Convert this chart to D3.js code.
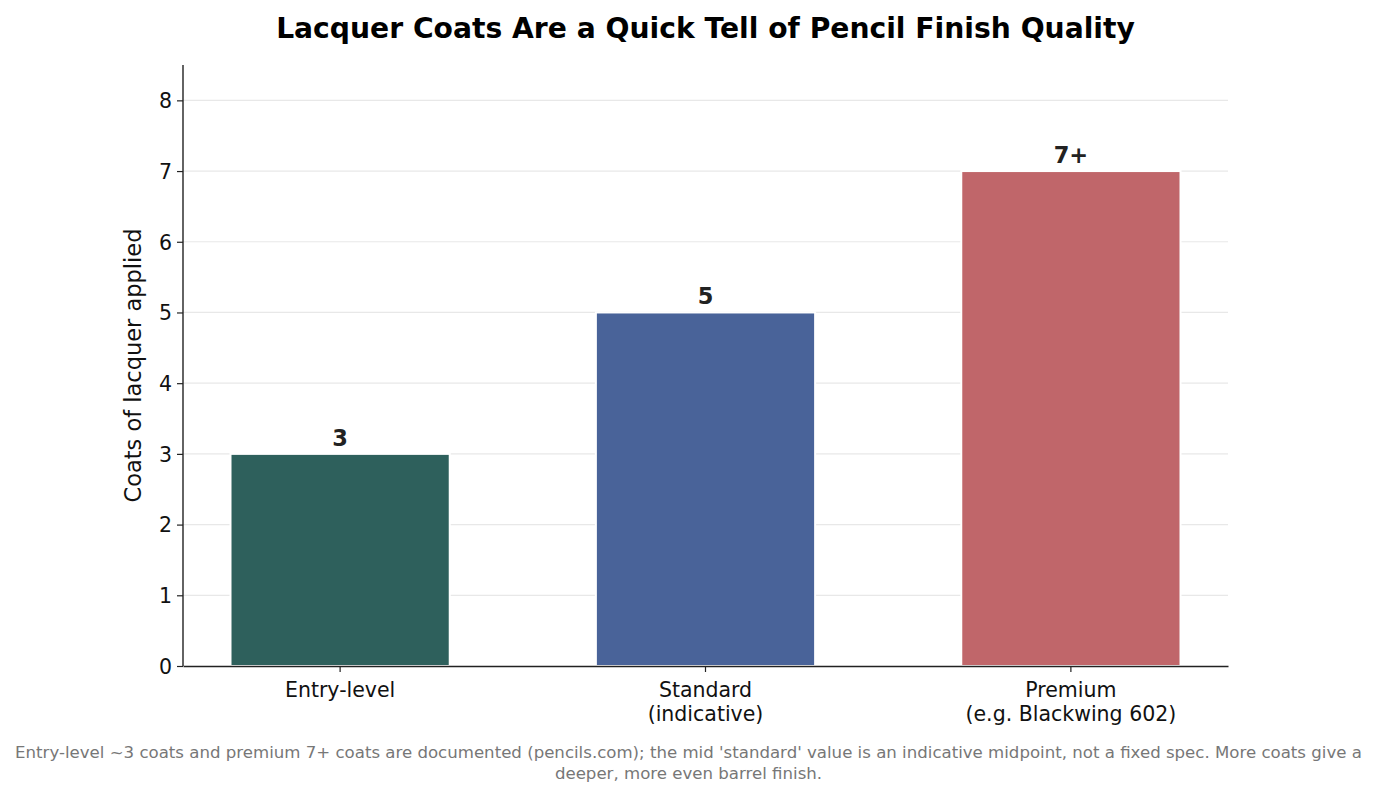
<!DOCTYPE html>
<html>
<head>
<meta charset="utf-8">
<script src="https://cdn.jsdelivr.net/npm/d3@7"></script>
<style>
  body { margin: 0; background: #fff; }
  svg text { font-family: "DejaVu Sans", sans-serif; }
</style>
</head>
<body>
<script>
const [width, height] = [1377, 797];
const margin = {top: 65, right: 149, bottom: 131, left: 183};

const categories = ['Entry-level', 'Standard\n(indicative)', 'Premium\n(e.g. Blackwing 602)'];
const coats = [3, 5, 7];
const valueLabels = ['3', '5', '7+'];
const barColors = ['#2e605c', '#496399', '#c0666a'];
const yTicks = [0, 1, 2, 3, 4, 5, 6, 7, 8];

const data = categories.map((c, i) => ({cat: c, value: coats[i], label: valueLabels[i], color: barColors[i]}));

const svg = d3.select('body')
  .append('svg')
  .attr('width', width)
  .attr('height', height);

const x = d3.scaleBand()
  .domain(categories)
  .range([margin.left, width - margin.right])
  .paddingInner(0.4)
  .paddingOuter(0.13);

const y = d3.scaleLinear()
  .domain([0, 8.5])
  .range([height - margin.bottom, margin.top]);

// grid
svg.append('g')
  .attr('class', 'grid')
  .selectAll('line')
  .data(yTicks.filter(d => d > 0))
  .enter()
  .append('line')
  .attr('x1', margin.left)
  .attr('x2', width - margin.right)
  .attr('y1', d => y(d))
  .attr('y2', d => y(d))
  .attr('stroke', '#e8e8e8')
  .attr('stroke-width', 1.2);

// bars
svg.append('g')
  .selectAll('rect')
  .data(data)
  .enter()
  .append('rect')
  .attr('x', d => x(d.cat))
  .attr('y', d => y(d.value))
  .attr('width', x.bandwidth())
  .attr('height', d => y(0) - y(d.value))
  .attr('fill', d => d.color)
  .attr('stroke', '#fff')
  .attr('stroke-width', 2);

// value labels
svg.append('g')
  .selectAll('text')
  .data(data)
  .enter()
  .append('text')
  .attr('x', d => x(d.cat) + x.bandwidth() / 2)
  .attr('y', d => y(d.value) - 8)
  .attr('text-anchor', 'middle')
  .attr('font-size', '22.5px')
  .attr('font-weight', 'bold')
  .attr('fill', '#222')
  .text(d => d.label);

// y axis
const g_y = svg.append('g')
  .attr('transform', `translate(${margin.left}, 0)`)
  .call(d3.axisLeft(y).tickValues(yTicks).tickSize(6).tickPadding(5));
g_y.select('.domain').attr('stroke', '#222').attr('stroke-width', 1.4)
  .attr('d', `M0,${y(8.5)}V${y(0)}`);
g_y.selectAll('.tick line').attr('stroke', '#222').attr('stroke-width', 1.2);
g_y.selectAll('.tick text')
  .attr('font-size', '20.5px')
  .attr('font-family', 'DejaVu Sans')
  .attr('fill', '#111')
  .attr('dy', '0.36em');

// x axis
const g_x = svg.append('g')
  .attr('transform', `translate(0, ${y(0)})`)
  .call(d3.axisBottom(x).tickSize(6).tickPadding(10).tickSizeOuter(0));
g_x.select('.domain').attr('stroke', '#222').attr('stroke-width', 1.4);
g_x.selectAll('.tick line').attr('stroke', '#222').attr('stroke-width', 1.2);
g_x.selectAll('.tick text')
  .attr('font-size', '20.5px')
  .attr('font-family', 'DejaVu Sans')
  .attr('fill', '#111')
  .each(function(d) {
    const t = d3.select(this);
    const lines = d.split('\n');
    t.text(null);
    lines.forEach((ln, i) => {
      t.append('tspan')
        .attr('x', 0)
        .attr('dy', i === 0 ? '0.71em' : '1.18em')
        .text(ln);
    });
  });

// y label
svg.append('text')
  .attr('transform', `translate(141, ${(y(0) + y(8.5)) / 2}) rotate(-90)`)
  .attr('text-anchor', 'middle')
  .attr('font-size', '22.5px')
  .attr('fill', '#111')
  .text('Coats of lacquer applied');

// title
svg.append('text')
  .attr('x', (margin.left + width - margin.right) / 2)
  .attr('y', 38)
  .attr('text-anchor', 'middle')
  .attr('font-size', '28.2px')
  .attr('font-weight', 'bold')
  .attr('fill', '#000')
  .text('Lacquer Coats Are a Quick Tell of Pencil Finish Quality');

// footnote
const notes = [
  "Entry-level ~3 coats and premium 7+ coats are documented (pencils.com); the mid 'standard' value is an indicative midpoint, not a fixed spec. More coats give a",
  "deeper, more even barrel finish."
];
svg.append('g')
  .selectAll('text')
  .data(notes)
  .enter()
  .append('text')
  .attr('x', width / 2)
  .attr('y', (d, i) => 758 + i * 21)
  .attr('text-anchor', 'middle')
  .attr('font-size', '16.6px')
  .attr('fill', '#777')
  .text(d => d);
</script>
</body>
</html>
